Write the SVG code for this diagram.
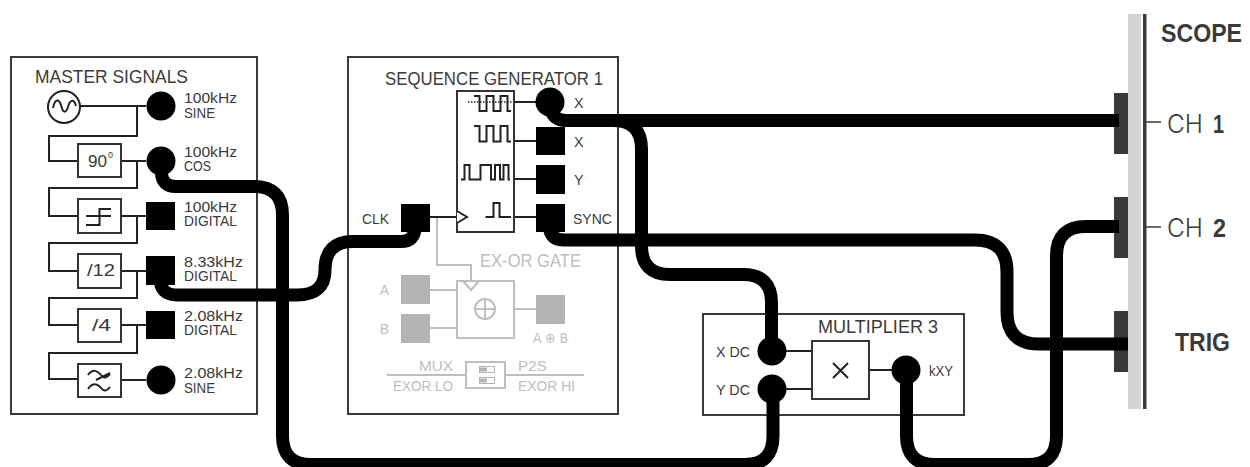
<svg xmlns="http://www.w3.org/2000/svg" width="1250" height="467" viewBox="0 0 1250 467">
<style>
text{font-family:"Liberation Sans",Arial,sans-serif;fill:#3a3a3a;font-size:14px}
.t{font-size:18px}
.g{fill:#bcbec0}
.box{fill:#fff;stroke:#3a3a3a;stroke-width:2}
.b2{fill:#fff;stroke:#333;stroke-width:2}
.w{fill:none;stroke:#222;stroke-width:2}
.gw{fill:none;stroke:#bcbec0;stroke-width:2}
.p{fill:#000}
.gp{fill:#b3b3b3}
.cable{fill:none;stroke:#000;stroke-width:13}
.big{font-size:26px}
.thin{font-family:Inter,"Liberation Sans",sans-serif;font-weight:300}
.b{font-weight:bold}
</style>
<g id="master-signals">
<rect class="box" x="11" y="57" width="246" height="357"/>
<text class="t" x="35" y="83" textLength="153" lengthAdjust="spacingAndGlyphs">MASTER SIGNALS</text>
<path class="w" d="M80 106H146M137 106V136H49V161H78M121 161H146M137 161V188H49V216H78M121 216H146M137 216V243H49V271H78M121 271H146M137 271V298H49V325H78M121 325H146M137 325V353H49V379H78M121 380H146"/>
<circle cx="64" cy="107" r="16" fill="#fff" stroke="#222" stroke-width="2"/>
<path class="w" d="M53 108C55 98 59 99 61 105C63 114 66 113 68 107C70 99 74 99 76 106"/>
<rect class="b2" x="78" y="144" width="43" height="33"/>
<text x="88" y="167" style="font-size:16px" textLength="19" lengthAdjust="spacingAndGlyphs">90</text>
<text x="108" y="158" style="font-size:9px">0</text>
<rect class="b2" x="78" y="199" width="43" height="34"/>
<path class="w" d="M111 209H99.500V225H86M86 216H111"/>
<rect class="b2" x="78" y="254" width="43" height="34"/>
<text x="87" y="276" style="font-size:16px" textLength="28" lengthAdjust="spacingAndGlyphs">/12</text>
<rect class="b2" x="78" y="309" width="43" height="33"/>
<text x="92" y="331" style="font-size:16px" textLength="19" lengthAdjust="spacingAndGlyphs">/4</text>
<rect class="b2" x="78" y="364" width="43" height="33"/>
<path class="w" d="M88 375C93 368 98 371 101 375C104 379 107 378 110 374M96 380L110 373M88 389C93 382 98 384 101 388C104 392 107 391 110 387"/>
<circle class="p" cx="161" cy="106" r="14.500"/>
<circle class="p" cx="161" cy="161" r="14.500"/>
<rect class="p" x="146" y="202" width="29" height="28"/>
<rect class="p" x="146" y="256" width="29" height="29"/>
<rect class="p" x="146" y="311" width="29" height="28"/>
<circle class="p" cx="161" cy="380" r="14.500"/>
<text x="184" y="103" textLength="53" lengthAdjust="spacingAndGlyphs">100kHz</text>
<text x="184" y="118" textLength="31" lengthAdjust="spacingAndGlyphs">SINE</text>
<text x="184" y="157" textLength="53" lengthAdjust="spacingAndGlyphs">100kHz</text>
<text x="184" y="171" textLength="27" lengthAdjust="spacingAndGlyphs">COS</text>
<text x="184" y="212" textLength="53" lengthAdjust="spacingAndGlyphs">100kHz</text>
<text x="184" y="226" textLength="53" lengthAdjust="spacingAndGlyphs">DIGITAL</text>
<text x="184" y="267" textLength="59" lengthAdjust="spacingAndGlyphs">8.33kHz</text>
<text x="184" y="281" textLength="53" lengthAdjust="spacingAndGlyphs">DIGITAL</text>
<text x="184" y="321" textLength="59" lengthAdjust="spacingAndGlyphs">2.08kHz</text>
<text x="184" y="335" textLength="53" lengthAdjust="spacingAndGlyphs">DIGITAL</text>
<text x="184" y="378" textLength="59" lengthAdjust="spacingAndGlyphs">2.08kHz</text>
<text x="184" y="393" textLength="31" lengthAdjust="spacingAndGlyphs">SINE</text>
</g>
<g id="sequence-generator">
<rect class="box" x="348" y="57" width="270" height="357"/>
<text class="t" x="385" y="85" textLength="218" lengthAdjust="spacingAndGlyphs">SEQUENCE GENERATOR 1</text>
<path class="w" d="M514 102H536M514 141H536M514 179H536M514 217H536M430 217H457"/>
<rect class="b2" x="457" y="91" width="57" height="141"/>
<path fill="#fff" stroke="#222" stroke-width="2" d="M457 211L467 217L457 223"/>
<path fill="none" stroke="#222" stroke-width="1.500" stroke-dasharray="1.500 1.500" d="M468 102H512"/>
<path class="w" d="M474 96H479.500V111H486.500V96H493.500V111H500.500V96H507.500V111H511"/>
<path class="w" d="M474 126H479.500V141.500H486.500V126H493.500V141.500H500.500V126H507.500V141.500H511"/>
<path class="w" d="M461 179.500H464.500V165H469.500V179.500H480.500V165H491V179.500H495V165H500V179.500H503.500V165H508.500V179.500H510"/>
<path class="w" d="M485.500 217H493.500V203H499.500V217H511"/>
<circle class="p" cx="550" cy="102" r="14.500"/>
<rect class="p" x="536" y="127" width="29" height="28"/>
<rect class="p" x="536" y="165" width="29" height="29"/>
<rect class="p" x="536" y="204" width="29" height="28"/>
<rect class="p" x="401" y="204" width="29" height="28"/>
<text x="574" y="108" textLength="9.500" lengthAdjust="spacingAndGlyphs">X</text>
<text x="574" y="147" textLength="9.500" lengthAdjust="spacingAndGlyphs">X</text>
<text x="574" y="185" textLength="9.500" lengthAdjust="spacingAndGlyphs">Y</text>
<text x="573" y="224" textLength="39" lengthAdjust="spacingAndGlyphs">SYNC</text>
<text x="362" y="224" textLength="27" lengthAdjust="spacingAndGlyphs">CLK</text>
</g>
<g id="ex-or-gate">
<path class="gw" d="M437 218V265H471V281M430 290H457M430 328H457M514 309H536M387 375H466M505 375H584"/>
<rect x="457" y="281" width="57" height="57" fill="#fff" stroke="#bcbec0" stroke-width="2"/>
<path class="gw" d="M463 281L471 290L479 281"/>
<circle class="gw" cx="485" cy="309" r="10"/>
<path class="gw" d="M475 309H495M485 299V319"/>
<rect class="gp" x="401" y="275" width="29" height="29"/>
<rect class="gp" x="401" y="314" width="29" height="29"/>
<rect class="gp" x="536" y="295" width="29" height="29"/>
<rect x="466" y="362" width="39" height="26" fill="#fff" stroke="#bcbec0" stroke-width="2"/>
<rect x="479.500" y="366.500" width="15" height="6" fill="#fff" stroke="#b3b3b3"/>
<rect x="479.500" y="377.500" width="15" height="6" fill="#fff" stroke="#b3b3b3"/>
<rect x="480" y="367.500" width="7" height="4" class="gp"/>
<rect x="480" y="378.500" width="7" height="4" class="gp"/>
<text class="t g" x="480" y="267" textLength="101" lengthAdjust="spacingAndGlyphs">EX-OR GATE</text>
<text class="g" x="380" y="295" textLength="9" lengthAdjust="spacingAndGlyphs">A</text>
<text class="g" x="380" y="334" textLength="9" lengthAdjust="spacingAndGlyphs">B</text>
<text class="g" x="533" y="343" textLength="35" lengthAdjust="spacingAndGlyphs" style="font-family:'DejaVu Sans',sans-serif">A ⊕ B</text>
<text class="g" x="419" y="371" textLength="34" lengthAdjust="spacingAndGlyphs">MUX</text>
<text class="g" x="393" y="391" textLength="60" lengthAdjust="spacingAndGlyphs">EXOR LO</text>
<text class="g" x="518" y="371" textLength="29" lengthAdjust="spacingAndGlyphs">P2S</text>
<text class="g" x="518" y="391" textLength="57" lengthAdjust="spacingAndGlyphs">EXOR HI</text>
</g>
<g id="multiplier">
<rect class="box" x="703" y="314" width="261" height="101"/>
<text class="t" x="818" y="333" textLength="120" lengthAdjust="spacingAndGlyphs">MULTIPLIER 3</text>
<path class="w" d="M786 351H812M786 389H812M869 370H892"/>
<rect class="b2" x="812" y="341" width="57" height="58"/>
<path class="w" d="M833 363L848 378M848 363L833 378"/>
<circle class="p" cx="772" cy="351" r="14.500"/>
<circle class="p" cx="772" cy="389" r="14.500"/>
<circle class="p" cx="906" cy="370" r="14.500"/>
<text x="716" y="357" textLength="34" lengthAdjust="spacingAndGlyphs">X DC</text>
<text x="716" y="395" textLength="34" lengthAdjust="spacingAndGlyphs">Y DC</text>
<text x="929" y="376" textLength="24" lengthAdjust="spacingAndGlyphs">kXY</text>
</g>
<g id="scope">
<rect x="1128" y="14" width="13" height="395" fill="#d1d3d4"/>
<rect x="1143" y="14" width="3.500" height="395" fill="#3a3a3a"/>
<rect x="1114" y="93" width="14" height="61" fill="#3a3838"/>
<rect x="1114" y="197" width="14" height="61" fill="#3a3838"/>
<rect x="1114" y="311" width="14" height="61" fill="#3a3838"/>
<path d="M1146 122H1161M1146 227H1161" stroke="#3a3a3a" stroke-width="1.500" fill="none"/>
<text class="big b" x="1161" y="42" textLength="81" lengthAdjust="spacingAndGlyphs">SCOPE</text>
<text class="big thin" x="1167" y="133" textLength="36" lengthAdjust="spacingAndGlyphs">CH</text>
<text class="big b" x="1213" y="133" textLength="11" lengthAdjust="spacingAndGlyphs">1</text>
<text class="big thin" x="1167" y="237" textLength="36" lengthAdjust="spacingAndGlyphs">CH</text>
<text class="big b" x="1213" y="237" textLength="13" lengthAdjust="spacingAndGlyphs">2</text>
<text class="big b" x="1175" y="351" textLength="55" lengthAdjust="spacingAndGlyphs">TRIG</text>
</g>
<g id="connectors">
<path class="cable" d="M161.500 165V172Q161.500 186.500 176 186.500H254Q282.500 186.500 282.500 215V436Q282.500 464.500 311 464.500H745Q773 464.500 773 436V389"/>
<path class="cable" d="M160 270V278Q160 295 177 295H297Q325 295 325 270Q325 241.500 353 241.500H401Q415 241.500 415 227V222"/>
<path class="cable" d="M550 106Q552 120.500 566 120.500H1119"/>
<path class="cable" d="M613 120.500Q641.500 120.500 641.500 149V246Q641.500 274.500 670 274.500H743Q771.500 274.500 771.500 303V351"/>
<path class="cable" d="M549.500 222V226Q549.500 240 564 240H975Q1007 240 1007 272V312Q1007 344 1039 344H1128"/>
<path class="cable" d="M906.500 370V436Q906.500 464.500 935 464.500H1028Q1056.500 464.500 1056.500 436V256Q1056.500 226.500 1086 226.500H1119"/>
</g>
</svg>
